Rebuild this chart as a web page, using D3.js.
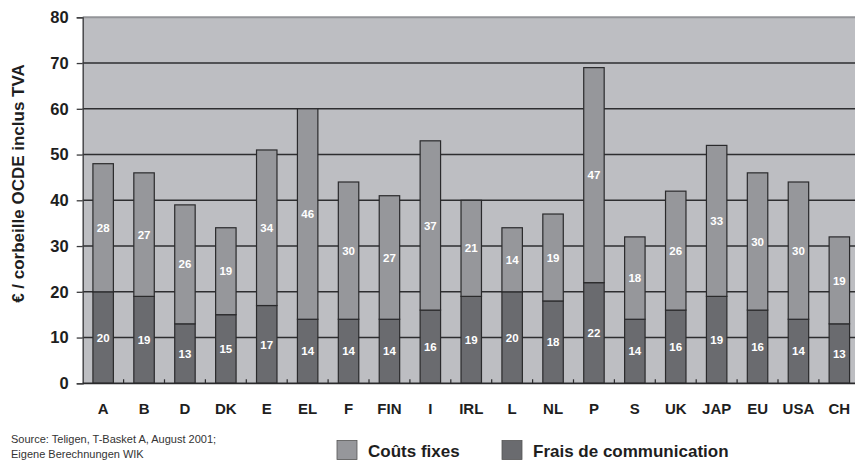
<!DOCTYPE html>
<html>
<head>
<meta charset="utf-8">
<script src="https://cdn.jsdelivr.net/npm/d3@7"></script>
<style>
  html, body { margin: 0; padding: 0; background: #ffffff; }
  svg { display: block; }
  text { font-family: "Liberation Sans", Arial, Helvetica, sans-serif; }
</style>
</head>
<body>
<svg id="chart" width="855" height="461"></svg>
<script>
// Monthly residential basket, split into fixed costs and call charges (€, VAT incl.)
const categories = ["A", "B", "D", "DK", "E", "EL", "F", "FIN", "I", "IRL", "L", "NL", "P", "S", "UK", "JAP", "EU", "USA", "CH"];
const fraisCommunication = [20, 19, 13, 15, 17, 14, 14, 14, 16, 19, 20, 18, 22, 14, 16, 19, 16, 14, 13];
const coutsFixes = [28, 27, 26, 19, 34, 46, 30, 27, 37, 21, 14, 19, 47, 18, 26, 33, 30, 30, 19];
const yTicks = [0, 10, 20, 30, 40, 50, 60, 70, 80];
const seriesNames = ["Coûts fixes", "Frais de communication"];

const colors = {
  fixed: "#96979b",
  comm: "#6a6b6f",
  plotBg: "#bdbec2",
  grid: "#2e2e30",
  text: "#1e1e1e"
};

const svg = d3.select("#chart");

const plot = { left: 82.7, right: 859.8, top: 17.3, bottom: 383.3 };

const x = d3.scaleBand()
  .domain(categories)
  .range([plot.left, plot.right])
  .paddingInner(0.5)
  .paddingOuter(0.25);

const y = d3.scaleLinear()
  .domain([0, 80])
  .range([plot.bottom, plot.top]);

// plot background
svg.append("rect")
  .attr("x", plot.left)
  .attr("y", plot.top)
  .attr("width", plot.right - plot.left)
  .attr("height", plot.bottom - plot.top)
  .attr("fill", colors.plotBg);

// horizontal gridlines
svg.append("g")
  .selectAll("line")
  .data(yTicks.filter(d => d > 0 && d < 80))
  .join("line")
  .attr("x1", plot.left)
  .attr("x2", plot.right)
  .attr("y1", d => y(d))
  .attr("y2", d => y(d))
  .attr("stroke", colors.grid)
  .attr("stroke-width", 1.4);

// top frame line
svg.append("line")
  .attr("x1", plot.left).attr("x2", plot.right)
  .attr("y1", y(80)).attr("y2", y(80))
  .attr("stroke", "#939498")
  .attr("stroke-width", 2);

// stacked bars
const stackData = categories.map((c, i) => ({ cat: c, comm: fraisCommunication[i], fixed: coutsFixes[i] }));
const stack = d3.stack().keys(["comm", "fixed"]);
const layers = stack(stackData);

const barGroup = svg.append("g");
layers.forEach(layer => {
  barGroup.append("g")
    .selectAll("rect")
    .data(layer)
    .join("rect")
    .attr("x", d => x(d.data.cat))
    .attr("width", x.bandwidth())
    .attr("y", d => y(d[1]))
    .attr("height", d => y(d[0]) - y(d[1]))
    .attr("fill", layer.key === "comm" ? colors.comm : colors.fixed)
    .attr("stroke", "#2a2a2c")
    .attr("stroke-width", 1.2);
});

// value labels centred in each segment
layers.forEach(layer => {
  barGroup.append("g")
    .selectAll("text")
    .data(layer)
    .join("text")
    .attr("x", d => x(d.data.cat) + x.bandwidth() / 2)
    .attr("y", d => y((d[0] + d[1]) / 2))
    .attr("dy", "0.36em")
    .attr("text-anchor", "middle")
    .attr("fill", "#ffffff")
    .attr("font-size", 11.5)
    .attr("font-weight", "bold")
    .text(d => d[1] - d[0]);
});

// y axis
const yAxis = d3.axisLeft(y)
  .tickValues(yTicks)
  .tickSize(6)
  .tickPadding(8);
const yg = svg.append("g")
  .attr("transform", `translate(${plot.left},0)`)
  .call(yAxis);
yg.select(".domain").attr("stroke", "#3a3a3c").attr("stroke-width", 1.3);
yg.selectAll(".tick line").attr("stroke", "#3a3a3c").attr("stroke-width", 1.3);
yg.selectAll(".tick text")
  .attr("fill", colors.text)
  .attr("font-size", 16.5)
  .attr("font-weight", "bold")
  .attr("font-family", "'Liberation Sans', Arial, sans-serif");

// x axis with short inward ticks between categories
const xAxis = d3.axisBottom(x).tickSize(0).tickPadding(20);
const xg = svg.append("g")
  .attr("transform", `translate(0,${plot.bottom})`)
  .call(xAxis);
xg.select(".domain").remove();
xg.selectAll(".tick text")
  .attr("fill", colors.text)
  .attr("font-size", 15)
  .attr("font-weight", "bold")
  .attr("font-family", "'Liberation Sans', Arial, sans-serif");

svg.append("line")
  .attr("x1", plot.left).attr("x2", plot.right)
  .attr("y1", plot.bottom).attr("y2", plot.bottom)
  .attr("stroke", "#2a2a2c")
  .attr("stroke-width", 1.8);

const step = x.step();
svg.append("g")
  .selectAll("line")
  .data(categories.slice(1))
  .join("line")
  .attr("x1", d => x(d) - step * x.paddingInner() / 2)
  .attr("x2", d => x(d) - step * x.paddingInner() / 2)
  .attr("y1", plot.bottom)
  .attr("y2", plot.bottom - 4)
  .attr("stroke", "#2a2a2c")
  .attr("stroke-width", 1.2);

// y axis title
svg.append("text")
  .attr("transform", `translate(24,${(57 + 310) / 2}) rotate(-90)`)
  .attr("text-anchor", "middle")
  .attr("fill", colors.text)
  .attr("font-size", 17)
  .attr("font-weight", "bold")
  .text("€ / corbeille OCDE inclus TVA");

// source note
svg.append("text")
  .attr("x", 11).attr("y", 443)
  .attr("fill", "#333")
  .attr("font-size", 11)
  .text("Source: Teligen, T-Basket A, August 2001;");
svg.append("text")
  .attr("x", 11).attr("y", 458)
  .attr("fill", "#333")
  .attr("font-size", 11)
  .text("Eigene Berechnungen WIK");

// legend
const legendItems = [
  { name: seriesNames[0], color: colors.fixed, x: 337 },
  { name: seriesNames[1], color: colors.comm, x: 502 }
];
const lg = svg.append("g");
legendItems.forEach(item => {
  lg.append("rect")
    .attr("x", item.x).attr("y", 440.5)
    .attr("width", 20).attr("height", 19)
    .attr("fill", item.color)
    .attr("stroke", "#555").attr("stroke-width", 0.8);
  lg.append("text")
    .attr("x", item.x + 31).attr("y", 457)
    .attr("fill", colors.text)
    .attr("font-size", 17)
    .attr("font-weight", "bold")
    .text(item.name);
});
</script>
</body>
</html>
